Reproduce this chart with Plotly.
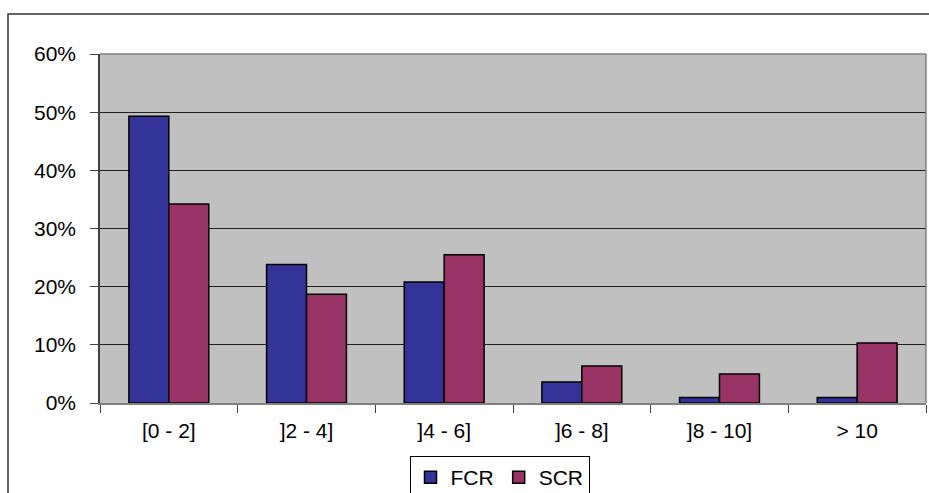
import plotly.graph_objects as go

categories = ["[0 - 2]", "]2 - 4]", "]4 - 6]", "]6 - 8]", "]8 - 10]", "> 10"]
fcr = [0.493, 0.238, 0.208, 0.036, 0.0095, 0.0095]
scr = [0.342, 0.187, 0.255, 0.0635, 0.050, 0.103]
ytick_vals = [0, 0.1, 0.2, 0.3, 0.4, 0.5, 0.6]
ytick_text = ["0%", "10%", "20%", "30%", "40%", "50%", "60%"]

W, H = 929, 493
L, R, T, B = 100, 3, 54, 90
pw, ph = W - L - R, H - T - B

def px(x):
    return (x - L) / pw

def py(y):
    return (H - B - y) / ph

fig = go.Figure()
fig.add_trace(go.Bar(name="FCR", x=categories, y=fcr,
                     marker=dict(color="#333399", line=dict(color="black", width=1.5))))
fig.add_trace(go.Bar(name="SCR", x=categories, y=scr,
                     marker=dict(color="#993366", line=dict(color="black", width=1.5))))

font = dict(family="Liberation Sans, Arial, sans-serif", size=21, color="black")

fig.update_layout(
    width=W, height=H,
    margin=dict(l=L, r=R, t=T, b=B, pad=0, autoexpand=False),
    paper_bgcolor="white",
    plot_bgcolor="#C0C0C0",
    barmode="group",
    bargap=0.42,
    bargroupgap=0,
    font=font,
    showlegend=True,
    legend=dict(orientation="h", xref="container", yref="container",
                x=499.5 / W, xanchor="center", y=1 - 456 / H, yanchor="top",
                bgcolor="white", bordercolor="black", borderwidth=1,
                font=dict(family="Liberation Sans, Arial, sans-serif", size=21, color="black"),
                itemwidth=30, tracegroupgap=0),
    xaxis=dict(type="category", showgrid=False, ticks="outside", tickson="boundaries",
               ticklen=8, tickcolor="#404040", showline=True, linecolor="#808080", linewidth=1.5,
               tickfont=font, mirror=False, ticklabelstandoff=8),
    yaxis=dict(range=[0, 0.6], tickvals=ytick_vals, ticktext=ytick_text,
               showgrid=True, gridcolor="#202020", gridwidth=1,
               ticks="outside", ticklen=8, tickcolor="#404040",
               showline=True, linecolor="#404040", linewidth=1.5,
               tickfont=font, zeroline=False, ticklabelstandoff=10),
    shapes=[
        dict(type="rect", xref="paper", yref="paper",
             x0=px(8), x1=px(935), y0=py(500), y1=py(14),
             line=dict(color="#333333", width=1.5), fillcolor="rgba(0,0,0,0)", layer="below"),
        dict(type="line", xref="paper", yref="paper", x0=0, x1=1, y0=1, y1=1,
             line=dict(color="#808080", width=1.5)),
        dict(type="line", xref="paper", yref="paper", x0=1, x1=1, y0=0, y1=1,
             line=dict(color="#808080", width=1.5)),
    ],
)

fig.write_html("out.html", config={"displayModeBar": False},
               post_script="document.body.style.margin='0';document.body.style.overflow='hidden';")
